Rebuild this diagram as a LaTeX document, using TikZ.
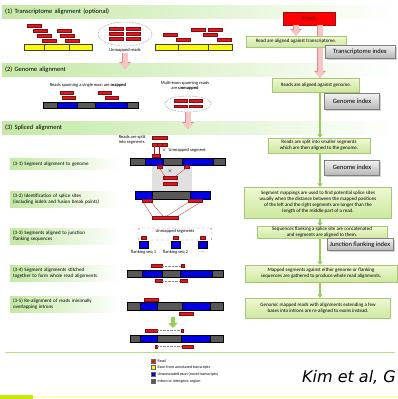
\documentclass[tikz,border=0pt]{standalone}
\usepackage{fontspec}
\setmainfont{Carlito}
\newfontfamily\kimfont{DejaVu Sans}
\usetikzlibrary{shapes.geometric, arrows.meta, positioning, shadows}
\definecolor{readred}{RGB}{222,24,30}
\definecolor{exonblue}{RGB}{0,0,230}
\definecolor{introngray}{RGB}{88,88,88}
\definecolor{knownyellow}{RGB}{255,250,0}
\definecolor{bandgreen}{RGB}{196,232,165}
\definecolor{spinegreen}{RGB}{150,205,85}
\definecolor{flowtop}{RGB}{240,248,210}
\definecolor{flowbottom}{RGB}{205,232,160}
\definecolor{flowedge}{RGB}{165,200,120}
\definecolor{arrowpink}{RGB}{248,196,196}
\definecolor{pinkedge}{RGB}{215,140,140}
\definecolor{limebar}{RGB}{196,236,0}
\newcommand\headfont{\fontsize{6.5}{7.5}\selectfont}
\newcommand\flowfont{\fontsize{5}{6}\selectfont}
\newcommand\stepfont{\fontsize{5}{6}\selectfont}
\newcommand\diagfont{\fontsize{4.5}{5.2}\selectfont}
\newcommand\legfont{\fontsize{4}{4.6}\selectfont}
\newcommand\indexfont{\fontsize{6.5}{7.5}\selectfont}

\begin{document}
\begin{tikzpicture}[x=1pt, y=-1pt,
  band/.style={left color=bandgreen, right color=white, anchor=west, minimum height=13pt, text width=388pt, inner sep=3pt, font=\headfont},
  stepbox/.style={left color=bandgreen, right color=white, anchor=west, text width=104pt, align=left, inner sep=3pt, font=\stepfont},
  flowbox/.style={draw=flowedge, top color=flowtop, bottom color=flowbottom, align=center, inner sep=1pt, font=\flowfont},
  indexbox/.style={draw=black!50, top color=black!5, bottom color=black!28, inner sep=1pt, font=\indexfont, drop shadow={shadow xshift=1.5pt, shadow yshift=-1.5pt, fill=black!35}},
  rd/.style={fill=readred, draw=readred!60!black, line width=0.2pt},
  ex/.style={fill=exonblue},
  intr/.style={fill=introngray},
  known/.style={fill=knownyellow, draw=black!75, line width=0.3pt},
  pool/.style={ellipse, draw=black!55, densely dotted, line width=0.5pt},
  diag/.style={font=\diagfont, inner sep=0.5pt},
  link/.style={readred!80!black, line width=0.25pt},
  gap/.style={black!45, densely dotted, line width=0.4pt},
  pinkarrow/.style={line width=5pt, arrowpink, -{Triangle[width=10pt,length=6pt]}, preaction={draw=pinkedge, line width=6pt, -{Triangle[width=11.5pt,length=7pt]}}},
  greenarrow/.style={line width=4pt, spinegreen, -{Triangle[width=9pt,length=5pt]}},
  spine/.style={spinegreen, line width=1.6pt, -{Triangle[width=5pt,length=3.5pt]}}]
 \useasboundingbox (0,0) rectangle (398,399);
 \fill[white] (0,0) rectangle (398,399);

 % section bands
 \node[band] (sec1) at (2,12) {(1) Transcriptome alignment (optional)};
 \node[band] (sec2) at (2,70) {(2) Genome alignment};
 \node[band] (sec3) at (2,128) {(3) Spliced alignment};

 % (1) transcriptome
 \draw[known] (24,44) rectangle (92,50);
 \draw[known] (155,44) rectangle (232,50);
 \draw[black!75, line width=0.3pt] (44,44) -- (44,50) (69,44) -- (69,50) (178,44) -- (178,50) (208,44) -- (208,50);
 \foreach \x/\y in {27/24, 33/29, 37/34, 42/39, 57/29, 60/34, 65/39, 163/33, 176/38, 191/28, 203/33, 208/28, 217/38}
   \draw[rd] (\x,\y) rectangle +(14,3);
 \node[pool, minimum width=54pt, minimum height=24pt] (pool1) at (125,34) {};
 \foreach \x in {109,126} \foreach \y in {27,32,37}
   \draw[rd] (\x,\y) rectangle +(14,3);
 \node[diag] (unmapped1) at (125,50.5) {Unmapped reads};
 \coordinate (drop1) at (125,69);
 \draw[pinkarrow] (unmapped1.south) -- (drop1);

 % (2) genome
 \node[diag] (spanone) at (88,85) {Reads spanning a single exon are \textbf{mapped}};
 \draw[intr] (43,102) rectangle (138,108);
 \draw[ex] (57,102) rectangle (77,108);
 \draw[ex] (95,102) rectangle (127,108);
 \foreach \x/\y in {60/91, 62/96, 98/91, 105/96}
   \draw[rd] (\x,\y) rectangle +(13,3);
 \node[diag, align=center] (spanmulti) at (185,86) {Multi-exon spanning reads\\are \textbf{unmapped}};
 \node[pool, minimum width=46pt, minimum height=16pt] (pool2) at (188,104) {};
 \foreach \x in {174,189} \foreach \y in {99.5,105}
   \draw[rd] (\x,\y) rectangle +(13,2.5);
 \coordinate (drop2) at (188,129);
 \draw[pinkarrow] (pool2.south) -- (drop2);

 % (3) steps
 \node[stepbox] (s31) at (10,164) {(3-1) Segment alignment to genome};
 \node[stepbox] (s32) at (10,199.5) {(3-2) Identification of splice sites\\(including indels and fusion break points)};
 \node[stepbox] (s33) at (10,236.5) {(3-3) Segments aligned to junction\\flanking sequences};
 \node[stepbox] (s34) at (10,273.5) {(3-4) Segment alignments stitched\\together to form whole read alignments};
 \node[stepbox] (s35) at (10,304.5) {(3-5) Re-alignment of reads minimally\\overlapping introns};

 % (3-1)
 \node[diag, align=left, anchor=east] (splitlbl) at (146,139.5) {Reads are split\\into segments};
 \draw[rd] (152,136.5) rectangle (167,139.5);
 \draw[rd] (152,143) rectangle (167,146);
 \draw[readred!50!black, line width=0.3pt] (157,143) -- (157,146) (162,143) -- (162,146);
 \fill[black!12] (152,158) rectangle (192,192);
 \draw[link] (154,146) -- (154,154.5) (159,146) -- (159,154.5);
 \draw[rd] (152,154.5) rectangle (160,157.5);
 \node[diag] (miss1) at (164,150) {$\times$};
 \node[diag, anchor=west] (unmapseg) at (168,150) {Unmapped segment};
 \draw[intr] (130,158) rectangle (225,165);
 \draw[ex] (145,158) rectangle (163,165);
 \draw[ex] (182,158) rectangle (213,165);
 \draw[rd] (157,165) rectangle (162,168);
 \draw[rd] (184,165) rectangle (189,168);
 \node[diag] (miss2) at (170,171) {$\times$};
 \draw[link] (159.5,168) -- (165,176.5) (186.5,168) -- (175,176.5);
 \draw[rd] (163,176.5) rectangle (177,179.5);
 \draw[rd] (163,182.5) rectangle (177,185.5);

 % (3-2)
 \draw[intr] (135,191) rectangle (210,199);
 \draw[ex] (135,191) rectangle (152,199);
 \draw[ex] (190,191) rectangle (210,199);
 \draw[link] (143,202) -- (152,216) (151,202) -- (163,216) (189,202) -- (167,216) (201,202) -- (178,216);
 \draw[rd] (142,199) rectangle (152,202);
 \draw[rd] (188,199) rectangle (202,202);
 \draw[rd] (152,216) rectangle (178,219);

 % (3-3)
 \node[draw=black!50, densely dashed, rounded corners=2pt, minimum width=74pt, minimum height=12pt, inner sep=0pt] (unmapbox) at (175,234) {};
 \node[diag] (unmaplbl) at (175,231.5) {Unmapped segments};
 \foreach \x/\t in {139/flanking seq 1, 171/flanking seq 2, 198/{\ldots}}{
   \draw[ex] (\x,241) rectangle +(9,7);
   \draw[rd] (\x+2.5,236.5) rectangle +(5,3);
   \node[diag] at (\x+4.5,252) {\t};
 }

 % (3-4)
 \draw[rd] (151,264.5) rectangle (162,267.5);
 \draw[gap] (162,266) -- (181,266);
 \draw[rd] (181,264.5) rectangle (184,267.5);
 \draw[intr] (127,270) rectangle (223,277);
 \draw[ex] (142,270) rectangle (162,277);
 \draw[ex] (180,270) rectangle (212,277);
 \draw[rd] (155,279.5) rectangle (162,282.5);
 \draw[gap] (162,281) -- (180,281);
 \draw[rd] (180,279.5) rectangle (187,282.5);

 % (3-5)
 \draw[rd] (144,298) rectangle (158,301);
 \draw[intr] (127,302) rectangle (223,310);
 \draw[ex] (140,302) rectangle (157,310);
 \draw[ex] (182,302) rectangle (210,310);
 \draw[rd] (179,312) rectangle (193,315);
 \coordinate (fix1) at (173,317);
 \coordinate (fix2) at (173,328);
 \draw[greenarrow] (fix1) -- (fix2);
 \draw[rd] (145,329) rectangle (157,332);
 \draw[gap] (157,330.5) -- (181,330.5);
 \draw[rd] (181,329) rectangle (183,332);
 \draw[intr] (130,335) rectangle (223,342);
 \draw[ex] (140,335) rectangle (157,342);
 \draw[ex] (181,335) rectangle (210,342);
 \draw[rd] (155,345) rectangle (157,348);
 \draw[gap] (157,346.5) -- (182,346.5);
 \draw[rd] (182,345) rectangle (193,348);

 % right column
 \coordinate (spine) at (320,0);
 \node[draw=readred!70!black, fill=red, minimum width=52pt, minimum height=13pt, inner sep=0pt, font=\fontsize{6}{7}\selectfont, text=red!45!black] (reads) at (309,18.5) {Reads};
 \node[flowbox, minimum width=87pt, minimum height=14pt] (gnalign) at (316,85) {Reads are aligned against genome.};
 \draw[pinkarrow] (reads.south -| spine) -- (gnalign.north -| spine);
 \node[flowbox, minimum width=100pt, minimum height=11pt] (txalign) at (296,41.5) {Read are aligned against transcriptome.};
 \draw[pinkarrow] (reads.south -| txalign) -- (txalign.north);
 \node[indexbox, minimum width=70pt, minimum height=13pt] (txindex) at (360,51.5) {Transcriptome index};
 \node[indexbox, minimum width=55pt, minimum height=16pt] (gnindex1) at (352,101.5) {Genome index};
 \node[flowbox, minimum width=102pt, minimum height=15pt] (split) at (319,145.5) {Reads are split into smaller segments\\which are then aligned to the genome.};
 \node[indexbox, minimum width=55pt, minimum height=15pt] (gnindex2) at (352,167.5) {Genome index};
 \node[flowbox, minimum width=147pt, minimum height=31pt] (spliceid) at (318,202.5) {Segment mappings are used to find potential splice sites\\usually when the distance between the mapped positions\\of the left and the right segments are longer than the\\length of the middle part of a read.};
 \node[flowbox, minimum width=130pt, minimum height=11pt] (flank) at (322,232.5) {Sequences flanking a splice site are concatenated\\and segments are aligned to them.};
 \node[indexbox, minimum width=66pt, minimum height=12pt] (jfindex) at (360,244.5) {Junction flanking index};
 \node[flowbox, minimum width=152pt, minimum height=17pt] (stitch) at (321,273.5) {Mapped segments against either genome or flanking\\sequences are gathered to produce whole read alignments.};
 \node[flowbox, minimum width=145pt, minimum height=20pt] (realign) at (318,308) {Genomic mapped reads with alignments extending a few\\bases into introns are re-aligned to exons instead.};
 \foreach \a/\b in {gnalign/split, split/spliceid, spliceid/flank, flank/stitch, stitch/realign}
   \draw[spine] (\a.south -| spine) -- (\b.north -| spine);

 % legend and footer
 \draw[spinegreen!70, line width=1pt] (5,352) -- (395,352);
 \foreach \y/\c/\t in {361.5/readred/Read, 367.5/knownyellow/Exon from annotated transcripts, 374.5/exonblue/Unannotated exon (novel transcripts), 381.5/introngray/Intron or intergenic region}{
   \draw[fill=\c, draw=black!60, line width=0.2pt] (151,\y-2) rectangle +(4,4);
   \node[font=\legfont, anchor=west, inner sep=0.5pt] at (157,\y) {\t};
 }
 \node[font=\kimfont\itshape\fontsize{16}{18}\selectfont, anchor=east, inner sep=0pt] (cite) at (396,377) {Kim et al, G};
 \fill[knownyellow!25] (33,396) rectangle (398,397.5);
 \fill[limebar] (0,394.5) rectangle (33,399);
\end{tikzpicture}
\end{document}
